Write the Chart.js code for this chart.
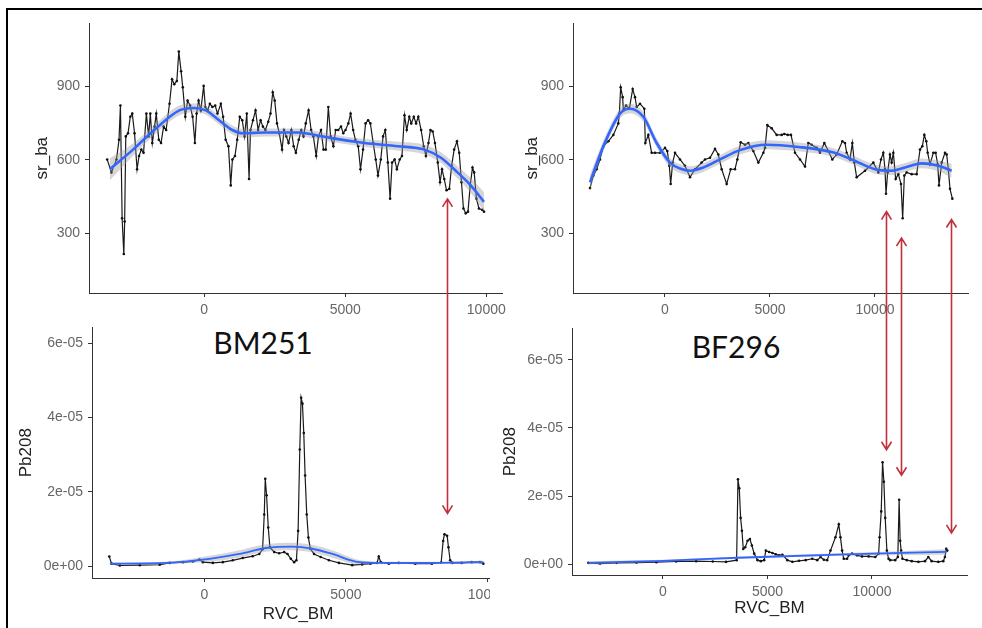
<!DOCTYPE html>
<html>
<head>
<meta charset="utf-8">
<title>sr_ba / Pb208 vs RVC_BM</title>
<script src="https://cdn.jsdelivr.net/npm/chart.js@4.4.0/dist/chart.umd.min.js"></script>
<style>
  html, body { margin: 0; padding: 0; background: #fff; }
  body { width: 982px; height: 628px; position: relative; overflow: hidden; }
  .frame { position: absolute; left: 6px; top: 8px; right: 0; bottom: 0; border-top: 2px solid #000; border-left: 2px solid #000; }
  .panel { position: absolute; overflow: hidden; }
  .panel canvas { position: absolute; left: 0; top: 0; }
  .tag { position: absolute; font-family: Lato, "Open Sans", sans-serif; font-size: 30px; color: #111; transform: translate(-50%, -50%); white-space: nowrap; }
  #arrows { position: absolute; left: 0; top: 0; pointer-events: none; }
</style>
</head>
<body>
<div class="frame"></div>
<div class="tag" style="left:263px; top:342px;">BM251</div>
<div class="tag" style="left:736px; top:346px;">BF296</div>
<canvas id="arrows" width="982" height="628"></canvas>

<script>
// Pb208 values are written in units of 1e-05
const PB_UNIT = 1e-5;

// --- BM251 : sr_ba ---
const tlX = [-3440, -3290, -3110, -3020, -2970, -2910, -2850, -2820, -2780, -2700,
  -2620, -2550, -2470, -2380, -2310, -2230, -2150, -2050, -1970, -1910,
  -1840, -1760, -1700, -1610, -1530, -1440, -1350, -1230, -1140, -1060,
  -970, -900, -820, -760, -670, -590, -500, -410, -330, -270,
  -200, -120, -20, 40, 120, 200, 290, 390, 470, 590,
  670, 760, 860, 940, 1000, 1090, 1170, 1260, 1350, 1430,
  1510, 1590, 1640, 1730, 1820, 1910, 2000, 2080, 2170, 2270,
  2350, 2430, 2500, 2580, 2660, 2760, 2830, 2910, 2990, 3090,
  3170, 3250, 3350, 3440, 3520, 3600, 3700, 3790, 3870, 3970,
  4050, 4140, 4230, 4310, 4400, 4480, 4580, 4660, 4750, 4850,
  4930, 5010, 5110, 5190, 5280, 5360, 5460, 5540, 5630, 5720,
  5810, 5890, 5990, 6080, 6160, 6260, 6340, 6420, 6510, 6590,
  6660, 6750, 6830, 6930, 7010, 7100, 7180, 7270, 7340, 7430,
  7510, 7590, 7690, 7780, 7860, 7950, 8020, 8100, 8180, 8280,
  8360, 8430, 8510, 8590, 8690, 8770, 8860, 8960, 9040, 9120,
  9190, 9270, 9350, 9430, 9510, 9570, 9650, 9740, 9860, 9920];
const tlSrBa = [601, 548, 601, 681, 821, 361, 215, 348, 695, 708,
  775, 788, 708, 561, 615, 641, 628, 788, 695, 788,
  668, 735, 788, 681, 668, 735, 721, 828, 928, 908,
  921, 1041, 961, 895, 775, 841, 821, 775, 668, 788,
  841, 801, 901, 815, 801, 828, 815, 821, 788, 828,
  775, 681, 655, 495, 601, 615, 681, 775, 761, 695,
  788, 521, 721, 761, 801, 721, 761, 735, 721, 755,
  788, 875, 841, 748, 708, 641, 721, 695, 668, 721,
  655, 628, 681, 721, 695, 748, 801, 721, 695, 615,
  695, 721, 641, 641, 815, 695, 655, 721, 721, 735,
  708, 721, 748, 788, 721, 681, 655, 561, 641, 748,
  761, 748, 668, 601, 535, 601, 695, 721, 588, 441,
  588, 601, 561, 601, 615, 781, 721, 775, 748, 775,
  748, 775, 721, 655, 615, 668, 721, 715, 668, 588,
  508, 561, 521, 475, 481, 575, 641, 675, 628, 508,
  401, 381, 388, 495, 568, 548, 441, 401, 395, 388];
const tlFitX = [-3345, -2523, -1702, -880, -352, 59, 529, 998, 1350, 2172, 3345, 3932, 4519, 5693, 6866, 7805, 8392, 8979, 9448, 9918];
const tlFitY = [561, 641, 728, 801, 811, 801, 761, 721, 708, 711, 711, 701, 688, 668, 655, 641, 608, 548, 495, 428];
const tlFitSe = [45, 25, 20, 20, 18, 18, 18, 18, 18, 16, 16, 16, 16, 16, 18, 20, 22, 25, 30, 40];

// --- BF296 : sr_ba ---
const trX = [-3571, -3412, -3254, -3095, -2936, -2698, -2460, -2222, -2174, -2111,
  -2016, -1984, -1857, -1698, -1540, -1428, -1349, -1190, -984, -936,
  -794, -635, -476, -238, 0, 111, 206, 270, 365, 476,
  714, 952, 1191, 1429, 1746, 1905, 2143, 2381, 2540, 2699,
  2937, 3127, 3333, 3445, 3603, 3810, 3968, 4206, 4445, 4683,
  4762, 4873, 5079, 5317, 5556, 5683, 5841, 6000, 6190, 6429,
  6667, 6825, 6984, 7222, 7381, 7587, 7778, 7968, 8175, 8445,
  8571, 8651, 8810, 8921, 9016, 9127, 9524, 9921, 10159, 10286,
  10397, 10476, 10524, 10603, 10714, 10794, 10873, 10984, 11111, 11238,
  11318, 11397, 11508, 11746, 11984, 12143, 12254, 12349, 12444, 12508,
  12619, 12778, 12889, 12984, 13048, 13175, 13333, 13413, 13492, 13571,
  13683];
const trSrBa = [484, 535, 561, 601, 655, 675, 701, 748, 788, 895,
  855, 801, 821, 808, 888, 855, 815, 828, 808, 668,
  701, 628, 628, 628, 648, 635, 575, 501, 588, 628,
  601, 575, 528, 561, 588, 601, 608, 644, 621, 561,
  501, 561, 561, 601, 671, 661, 668, 635, 588, 628,
  648, 741, 728, 701, 701, 705, 701, 701, 628, 601,
  572, 668, 661, 648, 628, 668, 635, 601, 621, 675,
  668, 628, 601, 668, 588, 528, 555, 588, 548, 601,
  628, 561, 461, 548, 621, 588, 628, 521, 541, 501,
  361, 535, 548, 541, 541, 641, 655, 701, 675, 628,
  581, 628, 628, 581, 495, 588, 628, 621, 561, 481,
  441];
const trFitX = [-3571, -2936, -2143, -1667, -1032, -397, 238, 714, 1191, 1826, 2619, 3571, 4841, 6349, 7937, 8889, 10000, 10794, 11429, 12222, 13016, 13651];
const trFitY = [508, 655, 788, 808, 775, 668, 588, 564, 555, 568, 601, 639, 661, 652, 631, 601, 561, 555, 568, 585, 575, 555];
const trFitSe = [30, 22, 20, 20, 20, 18, 18, 18, 18, 18, 18, 18, 18, 18, 18, 18, 18, 18, 18, 20, 22, 28];

// --- BM251 : Pb208 ---
const blX = [-3368, -3286, -2993, -2289, -1584, -1232, -763, -411, -176, -58,
  294, 646, 998, 1350, 1702, 1937, 2054, 2113, 2148, 2195,
  2254, 2312, 2465, 2641, 2817, 2934, 3052, 3169, 3251, 3310,
  3369, 3416, 3463, 3510, 3557, 3615, 3674, 3744, 3873, 4108,
  4402, 4754, 5223, 5575, 5869, 6104, 6162, 6233, 6514, 6866,
  7453, 8040, 8369, 8439, 8486, 8580, 8627, 8686, 8768, 9096,
  9448, 9742, 9860];
const blPb = [0.26, 0.07, 0.02, 0.03, 0.04, 0.09, 0.11, 0.13, 0.18, 0.11,
  0.09, 0.11, 0.16, 0.22, 0.27, 0.33, 0.46, 1.39, 2.35, 1.91,
  1.04, 0.51, 0.38, 0.35, 0.38, 0.33, 0.20, 0.11, 0.16, 0.95,
  3.14, 4.53, 4.37, 3.58, 2.44, 1.39, 0.77, 0.47, 0.33, 0.25,
  0.16, 0.09, 0.03, 0.05, 0.07, 0.09, 0.26, 0.11, 0.07, 0.09,
  0.07, 0.07, 0.10, 0.68, 0.86, 0.82, 0.51, 0.16, 0.09, 0.09,
  0.11, 0.11, 0.07];
const blFitX = [-3345, -1350, 176, 1233, 2172, 3110, 3815, 4519, 5458, 6280, 8040, 9860];
const blFitY = [0.07, 0.09, 0.20, 0.33, 0.49, 0.53, 0.47, 0.33, 0.11, 0.09, 0.09, 0.11];
const blFitSe = [0.03, 0.03, 0.08, 0.10, 0.10, 0.10, 0.10, 0.10, 0.06, 0.03, 0.03, 0.04];

// --- BF296 : Pb208 ---
const brX = [-3571, -3015, -2222, -1270, -317, 635, 1587, 2381, 3015, 3523,
  3587, 3650, 3714, 3777, 3841, 3936, 4047, 4158, 4253, 4364,
  4523, 4682, 4840, 4920, 5078, 5237, 5396, 5555, 5713, 5951,
  6189, 6507, 6824, 7142, 7380, 7538, 7697, 7856, 8014, 8252,
  8411, 8491, 8570, 8649, 8808, 8887, 9046, 9284, 9522, 9839,
  10157, 10316, 10363, 10442, 10506, 10569, 10633, 10712, 10792, 10871,
  11109, 11236, 11299, 11347, 11395, 11458, 11665, 11903, 12220, 12537,
  12696, 12855, 13172, 13410, 13490, 13553, 13601];
const brPb = [0.04, 0.02, 0.04, 0.05, 0.06, 0.08, 0.09, 0.08, 0.07, 0.12,
  2.49, 2.23, 1.36, 0.98, 0.45, 0.50, 0.69, 0.74, 0.55, 0.31,
  0.12, 0.09, 0.12, 0.40, 0.36, 0.33, 0.29, 0.26, 0.28, 0.12,
  0.07, 0.10, 0.12, 0.16, 0.12, 0.21, 0.13, 0.12, 0.40, 0.79,
  1.17, 0.79, 0.40, 0.16, 0.16, 0.26, 0.31, 0.26, 0.23, 0.23,
  0.21, 0.31, 0.79, 1.55, 2.99, 2.42, 1.36, 0.40, 0.16, 0.12,
  0.12, 0.21, 1.89, 0.69, 0.40, 0.16, 0.12, 0.09, 0.07, 0.09,
  0.21, 0.09, 0.07, 0.09, 0.21, 0.45, 0.40];
const brFitX = [-3571, 0, 3571, 8729, 13569];
const brFitY = [0.04, 0.10, 0.19, 0.29, 0.36];
const brFitSe = [0.05, 0.03, 0.03, 0.04, 0.08];

// tick labels
const rvcTicks = [0, 5000, 10000];
const srBaTicks = [300, 600, 900];
const pbTicks = [0, 2, 4, 6];

// red arrows linking the two panels of each sample
const arrowSample = ['BM251', 'BF296', 'BF296', 'BF296'];
const arrowRVC = [8590, 10520, 11250, 13620];
const arrowSrBa = [440, 388, 280, 356];
const arrowPb = [1.42, 3.36, 2.61, 0.92];

const FONT = '"Liberation Sans", Arial, sans-serif';

function pts(xs, ys, k) {
    return xs.map((x, i) => ({ x: x, y: ys[i] * k }));
}

// "2e-05" style labels like R prints them
function fmtSci(v) {
    if (Math.abs(v) < 1e-12) return '0e+00';
    const parts = v.toExponential(0).split('e');
    const exp = parseInt(parts[1], 10);
    return parts[0] + 'e' + (exp < 0 ? '-' : '+') + String(Math.abs(exp)).padStart(2, '0');
}

// blue loess line + grey band
function smoothSets(fx, fy, fse, k, width) {
    const up = fy.map((v, i) => v + fse[i]);
    const lo = fy.map((v, i) => v - fse[i]);
    return [
        { data: pts(fx, fy, k), borderColor: '#3366FF', borderWidth: width, pointRadius: 0, cubicInterpolationMode: 'monotone', fill: false },
        { data: pts(fx, up, k), borderColor: 'rgba(0,0,0,0)', borderWidth: 0, pointRadius: 0, cubicInterpolationMode: 'monotone', backgroundColor: 'rgba(153,153,153,0.4)', fill: '+1' },
        { data: pts(fx, lo, k), borderColor: 'rgba(0,0,0,0)', borderWidth: 0, pointRadius: 0, cubicInterpolationMode: 'monotone', fill: false }
    ];
}

function rawSet(xs, ys, k) {
    return { data: pts(xs, ys, k), borderColor: '#1a1a1a', borderWidth: 1.2, pointRadius: 1.3, pointBackgroundColor: '#111', pointBorderWidth: 0, tension: 0, fill: false };
}

function axis(min, max, ticks, title, size, fmt, isX) {
    return {
        type: 'linear',
        position: isX ? 'bottom' : 'left',
        min: min,
        max: max,
        afterBuildTicks: s => { s.ticks = ticks.map(v => ({ value: v })); },
        afterFit: s => { if (isX) s.height = size; else s.width = size; },
        grid: { drawOnChartArea: false, drawTicks: true, tickLength: 4, color: '#333' },
        border: { display: true, color: '#333', width: 1 },
        ticks: { color: '#666', font: { family: FONT, size: 14 }, padding: 5, maxRotation: 0, autoSkip: false, callback: v => fmt(v) },
        title: { display: !!title, text: title, color: '#222', font: { family: FONT, size: 17 }, padding: { top: 4, bottom: 4 } }
    };
}

function makePanel(p) {
    const box = document.createElement('div');
    box.className = 'panel';
    box.style.left = p.left + 'px';
    box.style.top = p.top + 'px';
    box.style.width = (p.clip || p.width) + 'px';
    box.style.height = p.height + 'px';
    const canvas = document.createElement('canvas');
    canvas.width = p.width;
    canvas.height = p.height;
    box.appendChild(canvas);
    document.body.insertBefore(box, document.getElementById('arrows'));

    const chart = new Chart(canvas.getContext('2d'), {
        type: 'line',
        data: { datasets: p.datasets },
        options: {
            responsive: false,
            animation: false,
            devicePixelRatio: 1,
            layout: { padding: { top: 8, right: 6, left: 0, bottom: 0 } },
            plugins: { legend: { display: false }, tooltip: { enabled: false } },
            scales: {
                x: axis(p.xMin, p.xMax, rvcTicks, p.xTitle, p.xHeight, v => String(v), true),
                y: axis(p.yMin, p.yMax, p.yTicks, p.yTitle, p.yWidth, p.yFmt, false)
            }
        }
    });
    return { chart: chart, left: p.left, top: p.top };
}

const tl = makePanel({
    left: 28, top: 10, width: 483, height: 313, yWidth: 61, xHeight: 30,
    xMin: -4084, xMax: 10563, yMin: 56, yMax: 1156,
    yTicks: srBaTicks, yTitle: 'sr_ba', xTitle: '', yFmt: v => String(v),
    datasets: smoothSets(tlFitX, tlFitY, tlFitSe, 1, 2.6).concat([rawSet(tlX, tlSrBa, 1)])
});

const tr = makePanel({
    left: 518, top: 10, width: 456, height: 313, yWidth: 55, xHeight: 30,
    xMin: -4381, xMax: 14429, yMin: 56, yMax: 1156,
    yTicks: srBaTicks, yTitle: 'sr_ba', xTitle: '', yFmt: v => String(v),
    datasets: smoothSets(trFitX, trFitY, trFitSe, 1, 2.6).concat([rawSet(trX, trSrBa, 1)])
});

const bl = makePanel({
    left: 12, top: 314, width: 500, clip: 478, height: 315, yWidth: 80, xHeight: 51,
    xMin: -3979, xMax: 10598, yMin: -0.316 * PB_UNIT, yMax: 6.42 * PB_UNIT,
    yTicks: pbTicks.map(v => v * PB_UNIT), yTitle: 'Pb208', xTitle: 'RVC_BM', yFmt: fmtSci,
    datasets: smoothSets(blFitX, blFitY, blFitSe, PB_UNIT, 1.8).concat([rawSet(blX, blPb, PB_UNIT)])
});

const br = makePanel({
    left: 496, top: 315, width: 477, height: 308, yWidth: 76, xHeight: 48,
    xMin: -4354, xMax: 14546, yMin: -0.316 * PB_UNIT, yMax: 6.92 * PB_UNIT,
    yTicks: pbTicks.map(v => v * PB_UNIT), yTitle: 'Pb208', xTitle: 'RVC_BM', yFmt: fmtSci,
    datasets: smoothSets(brFitX, brFitY, brFitSe, PB_UNIT, 1.8).concat([rawSet(brX, brPb, PB_UNIT)])
});

// double-headed arrows drawn on top of everything
function drawArrow(ctx, x, y1, y2) {
    ctx.beginPath();
    ctx.moveTo(x, y1);
    ctx.lineTo(x, y2);
    ctx.moveTo(x - 5, y1 + 8);
    ctx.lineTo(x, y1);
    ctx.lineTo(x + 5, y1 + 8);
    ctx.moveTo(x - 5, y2 - 8);
    ctx.lineTo(x, y2);
    ctx.lineTo(x + 5, y2 - 8);
    ctx.stroke();
}

const actx = document.getElementById('arrows').getContext('2d');
actx.strokeStyle = '#c0313b';
actx.lineWidth = 1.6;
arrowRVC.forEach((v, i) => {
    const upper = arrowSample[i] === 'BM251' ? tl : tr;
    const lower = arrowSample[i] === 'BM251' ? bl : br;
    const x = Math.round(upper.left + upper.chart.scales.x.getPixelForValue(v)) + 0.5;
    const y1 = upper.top + upper.chart.scales.y.getPixelForValue(arrowSrBa[i]);
    const y2 = lower.top + lower.chart.scales.y.getPixelForValue(arrowPb[i] * PB_UNIT);
    drawArrow(actx, x, y1, y2);
});
</script>
</body>
</html>
